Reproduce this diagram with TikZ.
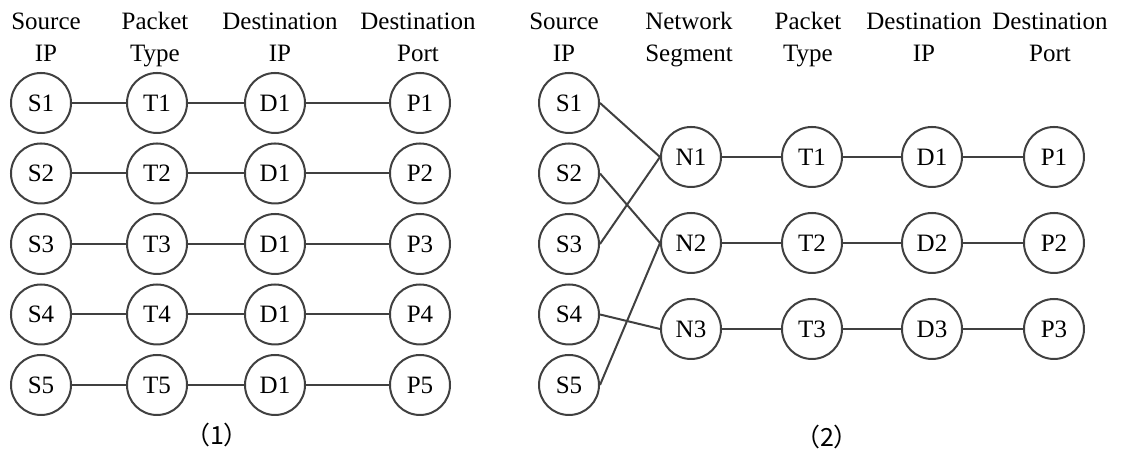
\documentclass[tikz,border=0pt]{standalone}
\usepackage{fontspec}
\setmainfont{Liberation Serif}
\newfontfamily\cjk{Noto Sans CJK SC}

\tikzset{
  field/.style={draw=black!75, circle, minimum size=24pt, inner sep=0pt, line width=0.8pt},
  head/.style={align=center, anchor=north, inner sep=0pt},
  link/.style={draw=black!75, line width=0.8pt},
}

\begin{document}
\begin{tikzpicture}[x=0.4pt, y=-0.4pt, font=\fontsize{10}{12.8}\selectfont]

    \useasboundingbox (0,0) rectangle (1121,450);

    % (1) one chain per flow
    \node[head] (hs) at (46,12) {Source\\IP};
    \node[head] (ht) at (155,12) {Packet\\Type};
    \node[head] (hd) at (280,12) {Destination\\IP};
    \node[head] (hp) at (418,12) {Destination\\Port};

    \node[field] (s1) at (41,103) {S1};
    \node[field] (s2) at (41,173.5) {S2};
    \node[field] (s3) at (41,244) {S3};
    \node[field] (s4) at (41,314.5) {S4};
    \node[field] (s5) at (41,385) {S5};

    \node[field] (t1) at (157,103) {T1};
    \node[field] (t2) at (157,173.5) {T2};
    \node[field] (t3) at (157,244) {T3};
    \node[field] (t4) at (157,314.5) {T4};
    \node[field] (t5) at (157,385) {T5};

    \node[field] (d1) at (275,103) {D1};
    \node[field] (d2) at (275,173.5) {D1};
    \node[field] (d3) at (275,244) {D1};
    \node[field] (d4) at (275,314.5) {D1};
    \node[field] (d5) at (275,385) {D1};

    \node[field] (p1) at (420,103) {P1};
    \node[field] (p2) at (420,173.5) {P2};
    \node[field] (p3) at (420,244) {P3};
    \node[field] (p4) at (420,314.5) {P4};
    \node[field] (p5) at (420,385) {P5};

    \draw[link] (s1) -- (t1) -- (d1) -- (p1);
    \draw[link] (s2) -- (t2) -- (d2) -- (p2);
    \draw[link] (s3) -- (t3) -- (d3) -- (p3);
    \draw[link] (s4) -- (t4) -- (d4) -- (p4);
    \draw[link] (s5) -- (t5) -- (d5) -- (p5);

    \node (cap1) at (217,435) {\cjk{（}1\cjk{）}};

    % (2) flows grouped by network segment
    \node[head] (hs2) at (564,12) {Source\\IP};
    \node[head] (hn2) at (689,12) {Network\\Segment};
    \node[head] (ht2) at (808,12) {Packet\\Type};
    \node[head] (hd2) at (924,12) {Destination\\IP};
    \node[head] (hp2) at (1050,12) {Destination\\Port};

    \node[field] (rs1) at (569,103) {S1};
    \node[field] (rs2) at (569,173.5) {S2};
    \node[field] (rs3) at (569,244) {S3};
    \node[field] (rs4) at (569,314.5) {S4};
    \node[field] (rs5) at (569,385) {S5};

    \node[field] (n1) at (691,157) {N1};
    \node[field] (n2) at (691,243) {N2};
    \node[field] (n3) at (691,329) {N3};

    \node[field] (rt1) at (812,157) {T1};
    \node[field] (rt2) at (812,243) {T2};
    \node[field] (rt3) at (812,329) {T3};

    \node[field] (rd1) at (932,157) {D1};
    \node[field] (rd2) at (932,243) {D2};
    \node[field] (rd3) at (932,329) {D3};

    \node[field] (rp1) at (1054,157) {P1};
    \node[field] (rp2) at (1054,243) {P2};
    \node[field] (rp3) at (1054,329) {P3};

    \draw[link] (rs1.east) -- (n1.west);
    \draw[link] (rs3.east) -- (n1.west);
    \draw[link] (rs2.east) -- (n2.west);
    \draw[link] (rs5.east) -- (n2.west);
    \draw[link] (rs4.east) -- (n3.west);

    \draw[link] (n1) -- (rt1) -- (rd1) -- (rp1);
    \draw[link] (n2) -- (rt2) -- (rd2) -- (rp2);
    \draw[link] (n3) -- (rt3) -- (rd3) -- (rp3);

    \node (cap2) at (827,437) {\cjk{（}2\cjk{）}};

\end{tikzpicture}
\end{document}
